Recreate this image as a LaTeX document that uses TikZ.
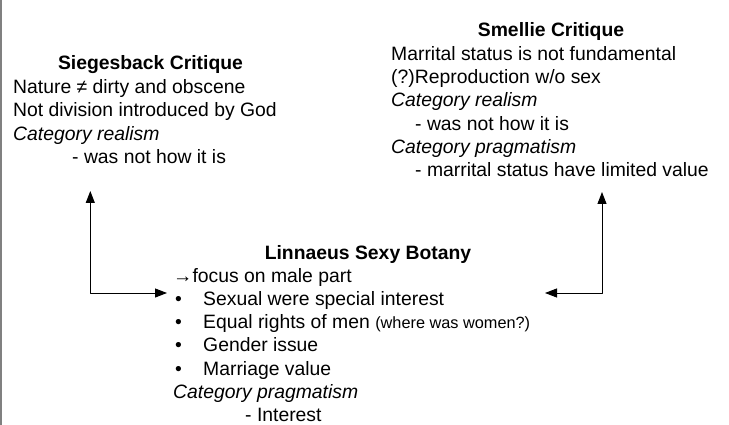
\documentclass[tikz,border=0pt]{standalone}
\usepackage{fontspec}
\setmainfont{Liberation Sans}
\usetikzlibrary{arrows.meta}

\begin{document}
\begin{tikzpicture}[x=1pt,y=-1pt,line cap=round,line join=round,
        >={Triangle[length=12pt,width=9pt]},
        ln/.style={anchor=base west,inner sep=0pt,font=\fontsize{19.35}{23}\selectfont},
        ttl/.style={anchor=base,inner sep=0pt,font=\fontsize{19.35}{23}\selectfont\bfseries},
        conn/.style={line width=1pt,<->}]
        \useasboundingbox (0,0) rectangle (729,425);
        \draw [line width=1.2pt,gray] (1,0)-- (1,425);
        % Siegesback
        \node [ttl] (sigtitle) at (150.5,70) {Siegesback Critique};
        \node [ln] (sig1) at (13,93.5) {Nature ≠ dirty and obscene};
        \node [ln] (sig2) at (13,116.8) {Not division introduced by God};
        \node [ln,font=\fontsize{19.35}{23}\selectfont\itshape] (sig3) at (13,140.1) {Category realism};
        \node [ln] (sig4) at (72,163.4) {- was not how it is};
        % Smellie
        \node [ttl] (smetitle) at (551,37) {Smellie Critique};
        \node [ln] (sme1) at (391,60.3) {Marrital status is not fundamental};
        \node [ln] (sme2) at (391,83.6) {(?)Reproduction w/o sex};
        \node [ln,font=\fontsize{19.35}{23}\selectfont\itshape] (sme3) at (391,106.9) {Category realism};
        \node [ln] (sme4) at (415,130.2) {- was not how it is};
        \node [ln,font=\fontsize{19.35}{23}\selectfont\itshape] (sme5) at (391,153.5) {Category pragmatism};
        \node [ln] (sme6) at (415,176.8) {- marrital status have limited value};
        % Linnaeus
        \node [ttl] (lintitle) at (368,259) {Linnaeus Sexy Botany};
        \node [ln] (lin0) at (173,282) {→focus on male part};
        \node [ln] (bul1) at (175,305.3) {•};
        \node [ln] (lin1) at (203,305.3) {Sexual were special interest};
        \node [ln] (bul2) at (175,328.6) {•};
        \node [ln] (lin2) at (203,328.6) {Equal rights of men \fontsize{16.3}{18}\selectfont(where was women?)};
        \node [ln] (bul3) at (175,351.9) {•};
        \node [ln] (lin3) at (203,351.9) {Gender issue};
        \node [ln] (bul4) at (175,375.2) {•};
        \node [ln] (lin4) at (203,375.2) {Marriage value};
        \node [ln,font=\fontsize{19.35}{23}\selectfont\itshape] (lin5) at (173,398.5) {Category pragmatism};
        \node [ln] (lin6) at (245,421.8) {- Interest};
        % connectors
        \coordinate (sigend) at (90.3,191);
        \coordinate (linleft) at (167,293);
        \coordinate (smeend) at (602,192);
        \coordinate (linright) at (545,293);
        \draw [conn] (sigend) |- (linleft);
        \draw [conn] (smeend) |- (linright);
\end{tikzpicture}
\end{document}
